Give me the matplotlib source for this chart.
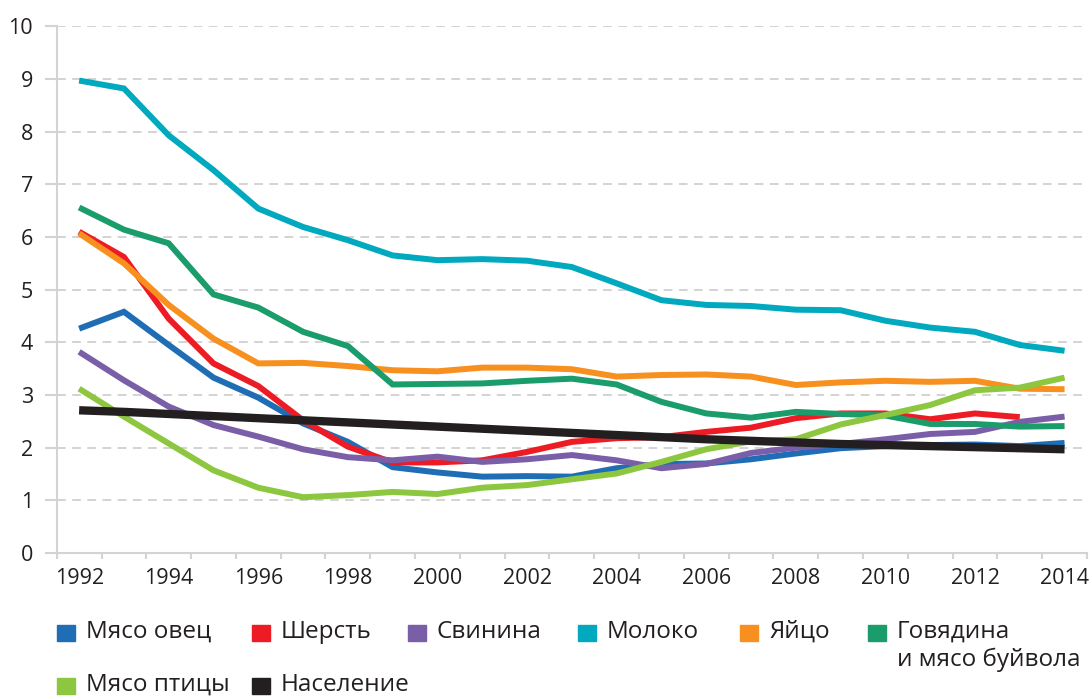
import matplotlib.pyplot as plt
import numpy as np
from matplotlib.patches import Rectangle

plt.rcParams['font.family'] = ['Open Sans', 'DejaVu Sans']

years = list(range(1992, 2015))

# values
sheep = [4.26, 4.58, 3.95, 3.33, 2.95, 2.46, 2.11, 1.63, 1.53, 1.45, 1.46, 1.45, 1.61, 1.69, 1.70,
         1.78, 1.89, 1.99, 2.03, 2.05, 2.06, 2.03, 2.09]
wool = [6.10, 5.62, 4.45, 3.60, 3.17, 2.52, 2.02, 1.72, 1.72, 1.76, 1.92, 2.11, 2.18, 2.20, 2.30,
        2.38, 2.56, 2.65, 2.65, 2.54, 2.65, 2.58]
pork = [3.82, 3.28, 2.78, 2.43, 2.21, 1.97, 1.82, 1.76, 1.83, 1.73, 1.78, 1.86, 1.76, 1.61, 1.69,
        1.90, 2.00, 2.07, 2.16, 2.26, 2.30, 2.49, 2.59]
milk = [8.97, 8.82, 7.93, 7.27, 6.54, 6.19, 5.94, 5.65, 5.56, 5.58, 5.55, 5.43, 5.12, 4.80, 4.71,
        4.69, 4.62, 4.61, 4.41, 4.28, 4.20, 3.95, 3.84]
eggs = [6.07, 5.50, 4.71, 4.07, 3.60, 3.61, 3.55, 3.47, 3.45, 3.52, 3.52, 3.49, 3.35, 3.38, 3.39,
        3.35, 3.19, 3.24, 3.27, 3.25, 3.27, 3.12, 3.11]
beef = [6.56, 6.14, 5.88, 4.91, 4.66, 4.20, 3.93, 3.20, 3.21, 3.22, 3.27, 3.31, 3.20, 2.87, 2.65,
        2.57, 2.68, 2.64, 2.61, 2.45, 2.45, 2.40, 2.41]
poultry = [3.12, 2.59, 2.08, 1.57, 1.24, 1.06, 1.10, 1.16, 1.12, 1.24, 1.29, 1.40, 1.51, 1.73, 1.97,
           2.12, 2.16, 2.44, 2.62, 2.81, 3.09, 3.14, 3.33]
population = [2.71, 2.68, 2.64, 2.60, 2.56, 2.52, 2.48, 2.44, 2.40, 2.36, 2.32, 2.28, 2.24, 2.20, 2.16,
              2.13, 2.10, 2.07, 2.05, 2.03, 2.01, 1.99, 1.97]

names = ['Мясо овец', 'Шерсть', 'Свинина', 'Молоко', 'Яйцо', 'Говядина\nи мясо буйвола',
         'Мясо птицы', 'Население']
series = [sheep, wool, pork, milk, eggs, beef, poultry, population]
colors = ['#1f6db5', '#ed1c24', '#7a5fa8', '#00a9bd', '#f7901e', '#1a9c6b', '#8dc63f', '#231f20']

fig = plt.figure(figsize=(10.91, 6.98), dpi=100)
ax = fig.add_axes([0.052, 0.2077, 0.9443, 0.7546])

x = np.arange(len(years))
for vals, c in zip(series, colors):
    lw = 6.0 if c == '#231f20' else 4.3
    ax.plot(x[:len(vals)], vals, color=c, lw=lw, solid_joinstyle='miter', solid_capstyle='butt')

grey = '#d3d3d3'
ax.set_xlim(-0.5, len(years) - 0.5)
ax.set_ylim(0, 10)
ax.set_yticks(range(0, 11))
ax.yaxis.grid(True, linestyle=(0, (4.5, 3.3)), color=grey, lw=1.4)
ax.set_axisbelow(True)
for s in ['top', 'right']:
    ax.spines[s].set_visible(False)
for s in ['left', 'bottom']:
    ax.spines[s].set_color(grey)
    ax.spines[s].set_linewidth(1.5)

ax.set_xticks(x[::2])
ax.set_xticklabels([str(y) for y in years[::2]])
ax.set_xticks(np.arange(-0.5, len(years)), minor=True)
ax.tick_params(axis='x', which='major', length=0, pad=11, labelsize=15.5, labelcolor='#231f20')
ax.tick_params(axis='x', which='minor', length=4, width=1.5, color=grey)
ax.tick_params(axis='y', length=9, width=1.5, color=grey, pad=8, labelsize=15.5, labelcolor='#231f20')

# legend laid out by hand like the original
leg_pos = [(57, 633), (252, 633), (408, 633), (578, 633), (740, 633), (868, 633), (57, 686), (252, 686)]
W, H = 1091, 698
for (px, py), name, c in zip(leg_pos, names, colors):
    fig.patches.append(Rectangle((px / W, (H - py - 8) / H), 18 / W, 16 / H,
                                 transform=fig.transFigure, color=c))
    fig.text((px + 29) / W, (H - py + 13) / H, name, fontsize=17.5, color='#231f20',
             va='top', ha='left', linespacing=1.22)

fig.savefig('out.png', dpi=100)
